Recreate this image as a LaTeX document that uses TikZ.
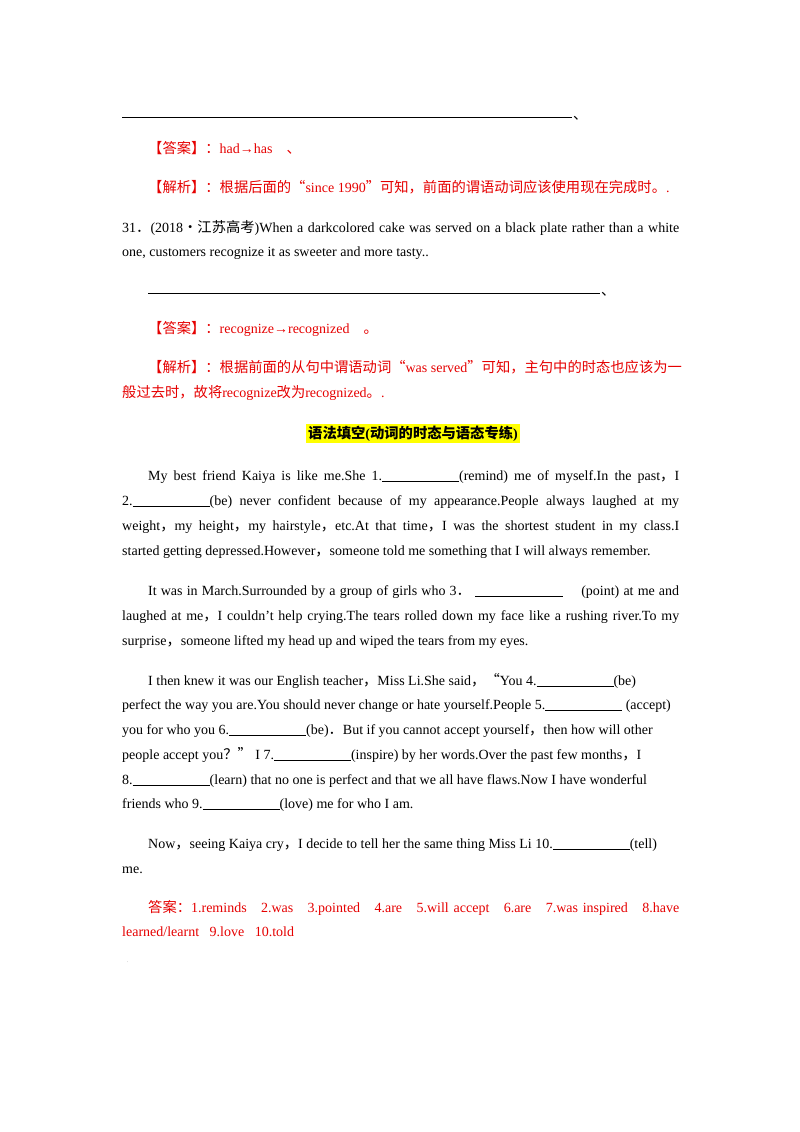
\documentclass[tikz,border=0pt]{standalone}
\usepackage{fontspec}
\setmainfont{Liberation Serif}
\newfontfamily\cjkfont{Noto Sans CJK SC}
\newcommand\zh[1]{{\cjkfont\fontsize{14.3}{16}\selectfont #1}}
\newcommand\blk[1][77pt]{\rule[-1.5pt]{#1}{0.5pt}}
\newcommand\jl[2]{\makebox[#1][s]{#2}}
\definecolor{ans}{RGB}{230,0,0}
\definecolor{hl}{RGB}{255,255,0}
\tikzset{t/.style={anchor=base west,inner sep=0pt,font=\fontsize{14}{16}\selectfont},
 r/.style={t,text=ans}}
\begin{document}
\begin{tikzpicture}[x=1pt,y=-1pt]
\useasboundingbox[fill=white] (0,0) rectangle (800,1132);
\coordinate (l1a) at (122,117); \coordinate (l1b) at (572,117);
\draw[line width=0.6pt] (l1a) -- (l1b);
\node[t,font=\tiny] (m1) at (573,119) {\zh{、}};
\node[r] (a1) at (148,153) {\zh{【答案】：}had→has\quad\zh{、}};
\node[r] (a2) at (148,192) {\zh{【解析】：根据后面的“}since 1990\zh{”可知，前面的谓语动词应该使用现在完成时。}.};
\node[t] (q1) at (122,232) {\jl{557pt}{31\zh{．}(2018\zh{·江苏高考})When a darkcolored cake was served on a black plate rather than a white}};
\node[t] (q2) at (122,256) {one, customers recognize it as sweeter and more tasty..};
\coordinate (l2a) at (148,293); \coordinate (l2b) at (600,293);
\draw[line width=0.6pt] (l2a) -- (l2b);
\node[t,font=\tiny] (m2) at (601,295) {\zh{、}};
\node[r] (a3) at (148,333) {\zh{【答案】：}recognize→recognized\quad\zh{。}};
\node[r] (a4) at (148,372) {\zh{【解析】：根据前面的从句中谓语动词“}was served\zh{”可知，主句中的时态也应该为一}};
\node[r] (a5) at (122,397) {\zh{般过去时，故将}recognize\zh{改为}recognized\zh{。}.};
\node[fill=hl,inner sep=2pt,anchor=base,font=\fontsize{14}{16}\selectfont\bfseries] (h) at (413,438) {\zh{语法填空}(\zh{动词的时态与语态专练})};
\node[t] (p1) at (148,480) {\jl{531pt}{My best friend Kaiya is like me.She 1.\blk(remind) me of myself.In the past\zh{，}I}};
\node[t] (p2) at (122,505) {\jl{557pt}{2.\blk(be) never confident because of my appearance.People always laughed at my}};
\node[t] (p3) at (122,530) {\jl{557pt}{weight\zh{，}my height\zh{，}my hairstyle\zh{，}etc.At that time\zh{，}I was the shortest student in my class.I}};
\node[t] (p4) at (122,555) {started getting depressed.However\zh{，}someone told me something that I will always remember.};
\node[t] (p5) at (148,595) {\jl{531pt}{It was in March.Surrounded by a group of girls who 3\zh{．}\ \blk[88pt]\quad\ (point) at me and}};
\node[t] (p6) at (122,620) {\jl{557pt}{laughed at me\zh{，}I couldn't help crying.The tears rolled down my face like a rushing river.To my}};
\node[t] (p7) at (122,645) {surprise\zh{，}someone lifted my head up and wiped the tears from my eyes.};
\node[t] (p8) at (148,685) {I then knew it was our English teacher\zh{，}Miss Li.She said\zh{，“}You 4.\blk(be)};
\node[t] (p9) at (122,709) {perfect the way you are.You should never change or hate yourself.People 5.\blk\ (accept)};
\node[t] (p10) at (122,734) {you for who you 6.\blk(be)\zh{．}But if you cannot accept yourself\zh{，}then how will other};
\node[t] (p11) at (122,759) {people accept you\zh{？”}\ I 7.\blk(inspire) by her words.Over the past few months\zh{，}I};
\node[t] (p12) at (122,784) {8.\blk(learn) that no one is perfect and that we all have flaws.Now I have wonderful};
\node[t] (p13) at (122,808) {friends who 9.\blk(love) me for who I am.};
\node[t] (p14) at (148,848) {Now\zh{，}seeing Kaiya cry\zh{，}I decide to tell her the same thing Miss Li 10.\blk(tell)};
\node[t] (p15) at (122,873) {me.};
\node[r] (k1) at (148,912) {\jl{531pt}{\zh{答案：}1.reminds\ \ \ 2.was\ \ \ 3.pointed\ \ \ 4.are\ \ \ 5.will accept\ \ \ 6.are\ \ \ 7.was inspired\ \ \ 8.have}};
\node[r] (k2) at (122,936) {learned/learnt\ \ \ 9.love\ \ \ 10.told};
\node[t,font=\tiny,text=gray] (dot) at (127,962) {.};
\end{tikzpicture}
\end{document}
